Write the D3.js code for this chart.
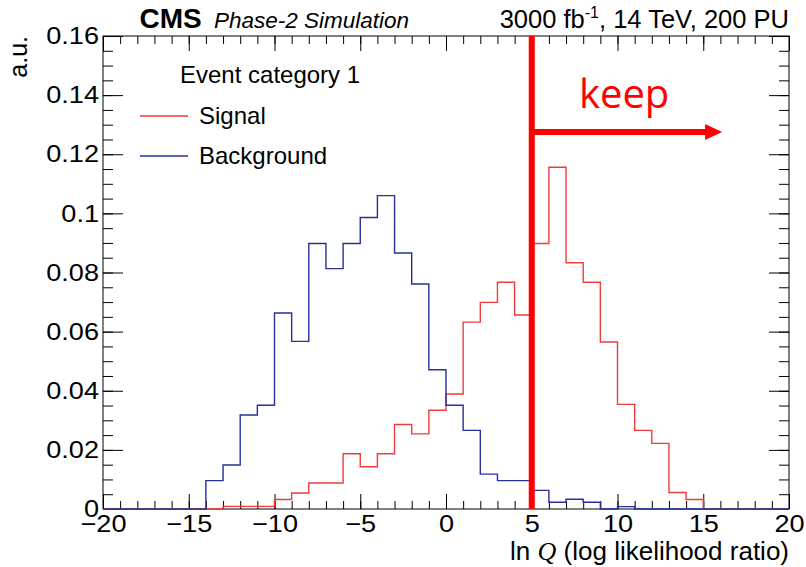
<!DOCTYPE html>
<html>
<head>
<meta charset="utf-8">
<script src="https://cdn.jsdelivr.net/npm/d3@7"></script>
<style>
  body { margin: 0; background: #fff; }
  text { font-family: "Liberation Sans", Arial, Helvetica, sans-serif; fill: #000; }
</style>
</head>
<body>
<svg id="chart" width="806" height="567"></svg>
<script>
// histogram bins: width 1, first bin starts at -20 (40 bins up to 20)
var binStart = -20, binWidth = 1;
var signal = [0, 0, 0, 0, 0, 0, 0,
  0.0009, 0.0009, 0.0009, 0.0032, 0.0054, 0.0088, 0.0088, 0.0187, 0.0143, 0.0187, 0.0286, 0.0254, 0.0334,
  0.0389, 0.0632, 0.0699, 0.0767, 0.0656, 0.0898, 0.1156, 0.0833, 0.0767, 0.0565, 0.0354, 0.0266, 0.0222, 0.0056, 0.0032,
  0, 0, 0, 0, 0];
var background = [0, 0, 0, 0, 0, 0,
  0.0096, 0.0149, 0.0318, 0.0351, 0.0663, 0.0567, 0.0898, 0.0813, 0.0898, 0.0986, 0.1060, 0.0866, 0.0761, 0.0471,
  0.0351, 0.0266, 0.0118, 0.0096, 0.0096, 0.0063, 0.0023, 0.0033, 0.0023, 0, 0.0008,
  0, 0, 0, 0, 0, 0, 0, 0, 0];

var xDomain = [-20, 20], yDomain = [0, 0.16];
var xMajor = [-20, -15, -10, -5, 0, 5, 10, 15, 20];
var yMajor = [0, 0.02, 0.04, 0.06, 0.08, 0.1, 0.12, 0.14, 0.16];

// the cut and the "keep" arrow, in data units
var cutValue = 5, arrowEnd = 16.1, arrowLevel = 0.1275;
var keepAt = [7.75, 0.1357];

var series = [
  {name: "Signal", values: signal, color: "#f03c3c"},
  {name: "Background", values: background, color: "#27309c"}
];

var W = 806, H = 567;
var margin = {top: 36, right: 17, bottom: 58, left: 103};
var iw = W - margin.left - margin.right, ih = H - margin.top - margin.bottom;
var labelStretch = 1.13; // tick labels are drawn a bit wide in the original

var svg = d3.select("#chart");
var g = svg.append("g").attr("transform", "translate(" + margin.left + "," + margin.top + ")");

var x = d3.scaleLinear().domain(xDomain).range([0, iw]);
var y = d3.scaleLinear().domain(yDomain).range([ih, 0]);

var xMinor = d3.range(xDomain[0], xDomain[1] + 0.5, 1);
var yMinor = d3.range(0, 0.1625, 0.005);

// frame
g.append("rect").attr("width", iw).attr("height", ih)
  .style("fill", "none").style("stroke", "#000").style("stroke-width", 1);

// ticks (all pointing inward, mirrored on top and right)
function tickAxis(axis, vals, size, tf, transform) {
  var a = axis.tickValues(vals).tickSize(-size).tickSizeOuter(0).tickFormat(tf);
  var sel = g.append("g").attr("transform", transform).call(a);
  sel.select(".domain").remove();
  sel.selectAll("line").style("stroke", "#000").style("stroke-width", 1);
  return sel;
}
var none = function() { return ""; };
tickAxis(d3.axisBottom(x), xMinor, 8, none, "translate(0," + ih + ")");
tickAxis(d3.axisTop(x), xMinor, 8, none, "translate(0,0)");
tickAxis(d3.axisTop(x), xMajor, 15, none, "translate(0,0)");
tickAxis(d3.axisLeft(y), yMinor, 10, none, "translate(0,0)");
tickAxis(d3.axisRight(y), yMinor, 10, none, "translate(" + iw + ",0)");
tickAxis(d3.axisRight(y), yMajor, 20, none, "translate(" + iw + ",0)");

var xAx = tickAxis(d3.axisBottom(x), xMajor, 15, d3.format("d"), "translate(0," + ih + ")");
xAx.selectAll("text").attr("y", 6).style("font-size", "24px")
  .attr("transform", "scale(" + labelStretch + ",1)");
var yAx = tickAxis(d3.axisLeft(y), yMajor, 20, d3.format("~g"), "translate(0,0)");
yAx.selectAll("text").attr("x", -4 / labelStretch).style("font-size", "24px")
  .attr("transform", "scale(" + labelStretch + ",1)");
g.selectAll(".tick text").style("font-family", "'Liberation Sans', Arial, sans-serif").style("fill", "#000");

// histograms as step outlines
var line = d3.line()
  .x(function(d) { return x(d[0]); })
  .y(function(d) { return y(d[1]); })
  .curve(d3.curveStepAfter);

series.forEach(function(s) {
  var pts = s.values.map(function(v, i) { return [binStart + i * binWidth, v]; });
  pts.push([binStart + s.values.length * binWidth, s.values[s.values.length - 1]]);
  g.append("path").datum(pts).attr("d", line)
    .style("fill", "none").style("stroke", s.color).style("stroke-width", 1.4);
});

// cut line and keep arrow
var red = "#ff0000";
g.append("line")
  .attr("x1", x(cutValue)).attr("x2", x(cutValue)).attr("y1", y(yDomain[1])).attr("y2", y(0))
  .style("stroke", red).style("stroke-width", 6);
var ay = y(arrowLevel), ax = x(arrowEnd);
g.append("line")
  .attr("x1", x(cutValue)).attr("x2", ax - 14).attr("y1", ay).attr("y2", ay)
  .style("stroke", red).style("stroke-width", 6);
g.append("path")
  .attr("d", "M" + ax + "," + ay + "L" + (ax - 17) + "," + (ay - 8) + "L" + (ax - 17) + "," + (ay + 8) + "Z")
  .style("fill", red);
g.append("text").attr("x", x(keepAt[0])).attr("y", y(keepAt[1]))
  .style("font-family", "'Open Sans', 'Noto Sans', sans-serif").style("font-size", "40px").style("fill", red)
  .text("keep");

// legend
var leg = svg.append("g").attr("transform", "translate(140,83)");
leg.append("text").attr("x", 40).attr("y", 0).style("font-size", "24px").text("Event category 1");
series.forEach(function(s, i) {
  var ly = 33 + i * 40;
  leg.append("line").attr("x1", 0).attr("x2", 48).attr("y1", ly).attr("y2", ly)
    .style("stroke", s.color).style("stroke-width", 1.4);
  leg.append("text").attr("x", 59).attr("y", ly + 7.5).style("font-size", "24px").text(s.name);
});

// header
svg.append("text").attr("x", 139.5).attr("y", 28).style("font-size", "28px").style("font-weight", "bold").text("CMS");
svg.append("text").attr("x", 214).attr("y", 28).style("font-size", "22.5px").style("font-style", "italic").text("Phase-2 Simulation");
var lumi = svg.append("text").attr("x", W - margin.right).attr("y", 28).attr("text-anchor", "end").style("font-size", "25.5px");
lumi.append("tspan").text("3000 fb");
lumi.append("tspan").attr("dy", -10).style("font-size", "16px").text("-1");
lumi.append("tspan").attr("dy", 10).text(", 14 TeV, 200 PU");

// axis titles
svg.append("text").attr("transform", "translate(27," + margin.top + ") rotate(-90)")
  .attr("text-anchor", "end").style("font-size", "25px").text("a.u.");
var xt = svg.append("text").attr("x", W - margin.right).attr("y", 560).attr("text-anchor", "end").style("font-size", "26px");
xt.append("tspan").text("ln ");
xt.append("tspan").style("font-family", "'Liberation Serif', serif").style("font-style", "italic").text("Q");
xt.append("tspan").text(" (log likelihood ratio)");
</script>
</body>
</html>
